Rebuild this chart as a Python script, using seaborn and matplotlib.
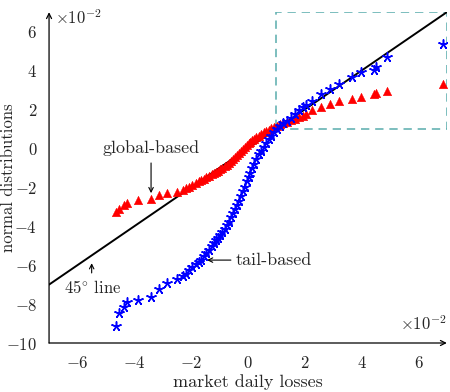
import matplotlib
matplotlib.use("Agg")
import matplotlib.pyplot as plt
import seaborn as sns
import pandas as pd

# ── Data (x 10^-2) ────────────────────────────────────────────────────────────
market_losses = [
    -4.65, -4.54, -4.36, -4.25, -3.86, -3.42, -3.13, -2.84, -2.49, -2.30,
    -2.19, -2.08, -1.96, -1.84, -1.74, -1.66, -1.56, -1.46, -1.37, -1.28,
    -1.20, -1.14, -1.06, -0.98, -0.90, -0.82, -0.75, -0.68, -0.60, -0.52,
    -0.45, -0.38, -0.32, -0.25, -0.18, -0.12, -0.05, 0.02, 0.08, 0.15,
    0.22, 0.30, 0.38, 0.46, 0.55, 0.64, 0.73, 0.82, 0.92, 1.02,
    1.12, 1.24, 1.36, 1.50, 1.64, 1.79, 1.93, 2.06, 2.26, 2.56,
    2.89, 3.20, 3.65, 3.99, 4.45, 4.49, 4.88, 6.87,
]
global_based = [
    -3.27, -3.14, -2.90, -2.80, -2.67, -2.62, -2.40, -2.29, -2.22, -2.12,
    -2.05, -1.96, -1.88, -1.78, -1.70, -1.62, -1.55, -1.47, -1.40, -1.34,
    -1.28, -1.22, -1.15, -1.08, -1.00, -0.92, -0.84, -0.74, -0.64, -0.53,
    -0.44, -0.34, -0.25, -0.14, -0.03, 0.07, 0.17, 0.26, 0.34, 0.42,
    0.50, 0.58, 0.66, 0.74, 0.82, 0.90, 0.97, 1.04, 1.10, 1.17,
    1.23, 1.30, 1.36, 1.44, 1.52, 1.60, 1.68, 1.78, 1.95, 2.12,
    2.26, 2.41, 2.55, 2.63, 2.80, 2.84, 2.97, 3.32,
]
tail_based = [
    -9.11, -8.48, -8.14, -7.91, -7.79, -7.62, -7.25, -6.94, -6.73, -6.55,
    -6.43, -6.26, -6.09, -5.95, -5.83, -5.72, -5.55, -5.38, -5.23, -5.03,
    -4.86, -4.72, -4.58, -4.43, -4.28, -4.12, -3.96, -3.78, -3.55, -3.32,
    -3.12, -2.90, -2.70, -2.45, -2.20, -1.98, -1.70, -1.48, -1.25, -1.02,
    -0.80, -0.54, -0.30, -0.12, 0.08, 0.28, 0.46, 0.64, 0.84, 1.00,
    1.14, 1.28, 1.42, 1.58, 1.75, 1.95, 2.12, 2.22, 2.45, 2.80,
    3.06, 3.32, 3.66, 3.91, 4.05, 4.17, 4.68, 5.37,
]
line_x = [-7, 7]
line_y = [-7, 7]
box_x = [1, 7, 7, 1, 1]
box_y = [1, 1, 7, 7, 1]
x_ticks = [-6, -4, -2, 0, 2, 4, 6]
y_ticks = [-10, -8, -6, -4, -2, 0, 2, 4, 6]

df = pd.DataFrame({"x": market_losses, "glob": global_based, "tail": tail_based})

# ── Style ─────────────────────────────────────────────────────────────────────
sns.set_style("white")
plt.rcParams["font.family"] = "serif"
plt.rcParams["font.serif"] = ["cmr10"]
plt.rcParams["mathtext.fontset"] = "cm"
plt.rcParams["axes.unicode_minus"] = False
FS = 13      # axis labels / annotations
TFS = 12     # tick labels


def tex_num(v):
    return f"${v}$" if v >= 0 else f"$-{-v}$"


fig = plt.figure(figsize=(4.5, 3.92), dpi=100)
ax = fig.add_axes([0.109, 0.125, 0.884, 0.844])

sns.lineplot(x=box_x, y=box_y, sort=False, estimator=None, ax=ax,
             color="#66b3b3", lw=1.2, linestyle=(0, (5, 3.5)))
sns.lineplot(x=line_x, y=line_y, estimator=None, ax=ax, color="black", lw=1.4)
sns.scatterplot(data=df, x="x", y="glob", ax=ax, marker="^", s=38,
                color="red", edgecolor="red", linewidth=0.3, zorder=3)
sns.scatterplot(data=df, x="x", y="tail", ax=ax, marker=(5, 2, 0), s=45,
                color="blue", edgecolor="blue", linewidth=1.1, zorder=4)

ax.set_xlim(-7, 7)
ax.set_ylim(-10, 7)
ax.set_xticks(x_ticks)
ax.set_yticks(y_ticks)
ax.set_xticklabels([tex_num(v) for v in x_ticks], fontsize=TFS)
ax.set_yticklabels([tex_num(v) for v in y_ticks], fontsize=TFS)
ax.tick_params(axis="x", direction="inout", length=5, width=0.6, pad=6)
ax.tick_params(axis="y", direction="inout", length=5, width=0.6, pad=6)
ax.set_xlabel("market daily losses", fontsize=FS)
ax.set_ylabel("normal distributions", fontsize=12)
ax.xaxis.set_label_coords(0.5, -0.095)
ax.yaxis.set_label_coords(-0.084, 0.5)

for s in ax.spines.values():
    s.set_visible(False)
arrow = dict(arrowstyle="->", lw=0.9, color="black", shrinkA=0, shrinkB=0,
             mutation_scale=9)
ax.annotate("", xy=(1.0, 0), xytext=(0, 0), xycoords="axes fraction",
            arrowprops=arrow, annotation_clip=False)
ax.annotate("", xy=(0, 1.0), xytext=(0, 0), xycoords="axes fraction",
            arrowprops=arrow, annotation_clip=False)

ax.text(0.015, 0.985, r"$\times 10^{-2}$", transform=ax.transAxes,
        ha="left", va="center", fontsize=TFS)
ax.text(1.0, 0.06, r"$\times 10^{-2}$", transform=ax.transAxes,
        ha="right", va="center", fontsize=TFS)

# annotations
small = dict(arrowstyle="->", lw=0.8, color="black", shrinkA=0, shrinkB=0,
             mutation_scale=8)
ax.text(-3.41, 0.0, "global-based", ha="center", va="center", fontsize=FS)
ax.annotate("", xy=(-3.41, -2.3), xytext=(-3.41, -0.75), arrowprops=small)
ax.text(-0.42, -5.74, "tail-based", ha="left", va="center", fontsize=FS)
ax.annotate("", xy=(-1.44, -5.74), xytext=(-0.6, -5.74), arrowprops=small)
ax.text(-5.47, -7.15, r"$45^{\circ}$ line", ha="center", va="center", fontsize=TFS)
ax.annotate("", xy=(-5.5, -5.9), xytext=(-5.5, -6.4), arrowprops=small)

fig.savefig("out.png", dpi=100)
